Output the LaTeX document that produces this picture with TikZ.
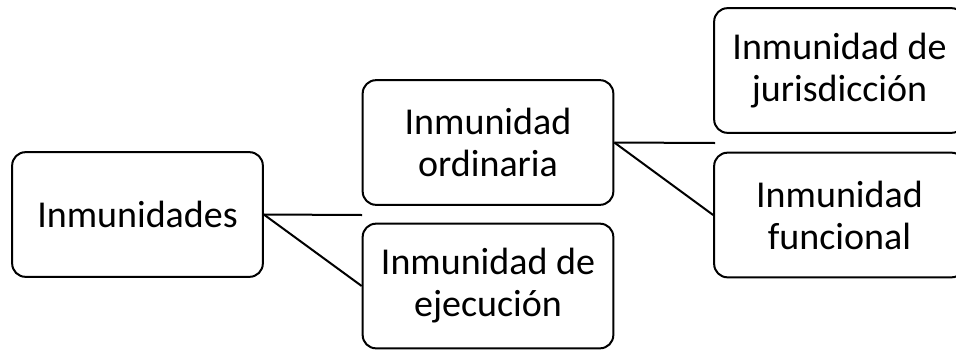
\documentclass[tikz,border=0pt]{standalone}
\usepackage{fontspec}
\setmainfont{Carlito}
\begin{document}
\begin{tikzpicture}[x=0.75pt,y=-0.75pt,
  box/.style={draw, line width=1.5pt, rounded corners=10pt, minimum width=188pt, minimum height=93.5pt, inner sep=0pt, align=center, font=\fontsize{28.5}{31.5}\selectfont},
  conn/.style={line width=1.5pt}]
\useasboundingbox (0,0) rectangle (956,350);
\clip (0,0) rectangle (956,350);
\node[box] (inm) at (137.5,214.5) {Inmunidades};
\node[box] (ord) at (488,142.5) {Inmunidad\\ordinaria};
\node[box] (eje) at (488,286) {Inmunidad de\\ejecución};
\node[box] (jur) at (839.5,70.5) {Inmunidad de\\jurisdicción};
\node[box] (fun) at (839.5,215) {Inmunidad\\funcional};
\coordinate (c1) at (362,215);
\coordinate (c2) at (715,143);
\draw[conn] (inm.east) -- (c1);
\draw[conn] (inm.east) -- (eje.west);
\draw[conn] (ord.east) -- (c2);
\draw[conn] (ord.east) -- (fun.west);
\end{tikzpicture}
\end{document}
